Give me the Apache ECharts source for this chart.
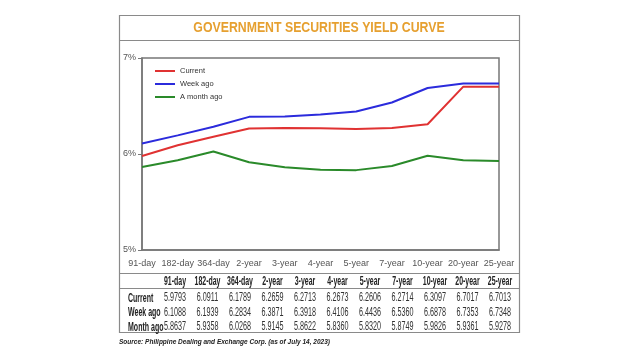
<!DOCTYPE html>
<html><head><meta charset="utf-8">
<script src="https://cdn.jsdelivr.net/npm/echarts@6/dist/echarts.min.js"></script>
<style>html,body{margin:0;padding:0;background:#fff}#c{width:640px;height:360px}</style>
</head><body><div id="c"></div>
<script>
const categories = ['91-day','182-day','364-day','2-year','3-year','4-year','5-year','7-year','10-year','20-year','25-year'];
const current  = [5.9793,6.0911,6.1789,6.2659,6.2713,6.2673,6.2606,6.2714,6.3097,6.7017,6.7013];
const weekAgo  = [6.1088,6.1939,6.2834,6.3871,6.3918,6.4106,6.4436,6.5360,6.6878,6.7353,6.7348];
const monthAgo = [5.8637,5.9358,6.0268,5.9145,5.8622,5.8360,5.8320,5.8749,5.9826,5.9361,5.9278];
const seriesNames = ['Current','Week ago','A month ago'];
const rowLabels = ['Current','Week ago','Month ago'];
const yTicks = [5,6,7];
const titleText = 'GOVERNMENT SECURITIES YIELD CURVE';
const sourceText = 'Source: Philippine Dealing and Exchange Corp. (as of July 14, 2023)';

const chart = echarts.init(document.getElementById('c'));
const rows = [current, weekAgo, monthAgo];
const colX0 = 175, colDx = 32.5;
const FF = '"Liberation Sans", Arial, sans-serif';
const g = [];
g.push({type:'rect', shape:{x:119.5,y:15.5,width:400,height:317}, style:{fill:'none',stroke:'#8a8a8a',lineWidth:1.2}});
g.push({type:'line', shape:{x1:119.5,y1:40.5,x2:519.5,y2:40.5}, style:{stroke:'#8a8a8a',lineWidth:1.2}});
g.push({type:'line', shape:{x1:119.5,y1:273.5,x2:519.5,y2:273.5}, style:{stroke:'#8a8a8a',lineWidth:1.2}});
g.push({type:'line', shape:{x1:119.5,y1:288.5,x2:519.5,y2:288.5}, style:{stroke:'#8a8a8a',lineWidth:1.2}});
g.push({type:'text', x:319, y:28, scaleX:0.82, style:{text:titleText, fill:'#e6a030', font:'bold 15px '+FF, textAlign:'center', textVerticalAlign:'middle'}});
categories.forEach((c,i)=>{
  g.push({type:'text', x:colX0+i*colDx, y:281.5, scaleX:0.58, style:{text:c, fill:'#222', font:'bold 12px '+FF, textAlign:'center', textVerticalAlign:'middle'}});
});
rowLabels.forEach((r,j)=>{
  const y = 298 + j*14.5;
  g.push({type:'text', x:128, y:y, scaleX:0.54, style:{text:r, fill:'#222', font:'bold 13px '+FF, textAlign:'left', textVerticalAlign:'middle'}});
  rows[j].forEach((v,i)=>{
    g.push({type:'text', x:colX0+i*colDx, y:y, scaleX:0.6, style:{text:v.toFixed(4), fill:'#333', font:'12px '+FF, textAlign:'center', textVerticalAlign:'middle'}});
  });
});
g.push({type:'text', x:119, y:342, scaleX:0.87, style:{text:sourceText, fill:'#222', font:'italic bold 7.5px '+FF, textAlign:'left', textVerticalAlign:'middle'}});

const colors = ['#e03232','#2b2bdc','#2a8a2a'];
chart.setOption({
  animation:false,
  color: colors,
  grid:{left:142, right:141, top:58, bottom:110, show:true, borderColor:'#777', borderWidth:1.5, backgroundColor:'transparent'},
  legend:{orient:'vertical', left:150, top:62, itemWidth:20, itemHeight:2, itemGap:5, icon:'rect',
    textStyle:{fontSize:7.5, color:'#333', fontFamily:FF}, data:seriesNames},
  xAxis:{type:'category', data:categories, boundaryGap:false,
    axisLine:{lineStyle:{color:'#777', width:1.5}}, axisTick:{show:false},
    axisLabel:{color:'#555', fontSize:9, margin:9, interval:0, fontFamily:FF}},
  yAxis:{type:'value', min:yTicks[0], max:yTicks[yTicks.length-1], interval:1,
    axisLine:{show:true, lineStyle:{color:'#777', width:1.5}}, axisTick:{show:true, length:4, lineStyle:{color:'#777'}},
    splitLine:{show:false},
    axisLabel:{color:'#555', fontSize:9, margin:6, formatter:v=>v+'%', fontFamily:FF}},
  series:[
    {name:seriesNames[0], type:'line', data:current, symbol:'none', lineStyle:{width:2}},
    {name:seriesNames[1], type:'line', data:weekAgo, symbol:'none', lineStyle:{width:2}},
    {name:seriesNames[2], type:'line', data:monthAgo, symbol:'none', lineStyle:{width:2}}
  ],
  graphic:g
});
</script></body></html>
